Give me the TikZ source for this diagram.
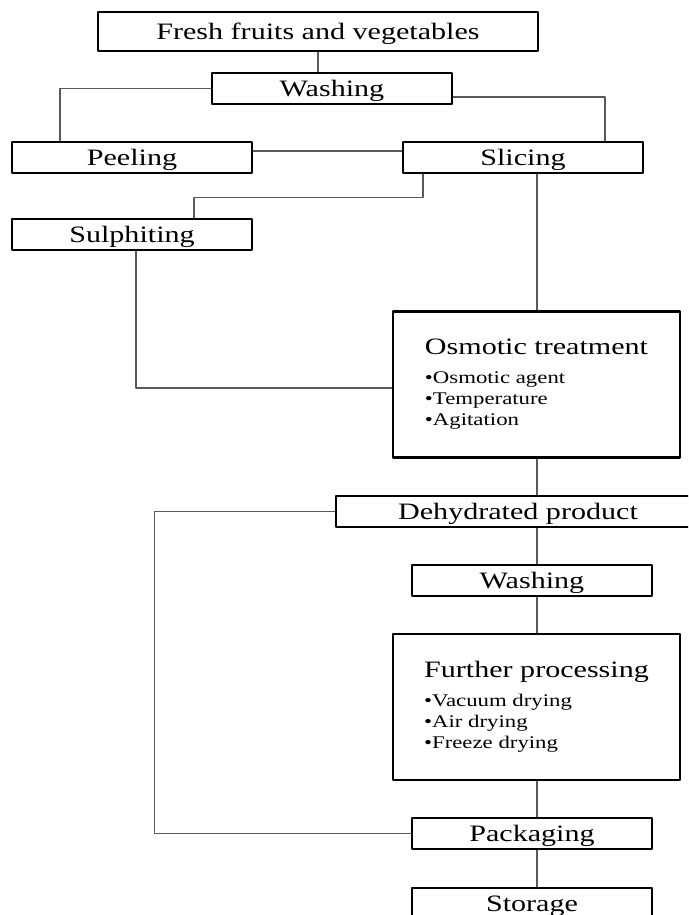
\documentclass[tikz,border=0pt]{standalone}
\usepackage{fontspec}
\setmainfont{Liberation Serif}
\usepackage{graphicx}

\newcommand{\wide}[1]{\scalebox{1.28}[1]{#1}}
\newcommand{\headfont}{\fontsize{23.5}{28}\selectfont}
\newcommand{\listfont}{\fontsize{17.8}{21}\selectfont}

\begin{document}
\begin{tikzpicture}[x=1pt,y=-1pt,line join=round,
  box/.style={draw,line width=2.8pt,inner sep=0pt,minimum width=240pt,minimum height=31pt,
    text height=15.5pt,text depth=0pt,font=\headfont},
  bigbox/.style={draw,line width=2.8pt,inner sep=0pt,minimum width=287pt,
    minimum height=146pt,align=left,font=\listfont},
  link/.style={line width=1.5pt,color=black!65}]

\useasboundingbox (0,0) rectangle (688,915);
\clip (0,0) rectangle (688,915);

% preparation steps
\node[box,minimum width=440pt,minimum height=39pt] (fresh) at (318,31.5) {\wide{Fresh fruits and vegetables}};
\node[box] (wash1) at (332,88.5) {\wide{Washing}};
\node[box] (peel) at (132,157.5) {\wide{Peeling}};
\node[box] (slice) at (523,157.5) {\wide{Slicing}};
\node[box] (sulph) at (132,234.5) {\wide{Sulphiting}};

\node[bigbox] (osmo) at (536.5,384.5) {{\headfont\wide{Osmotic treatment}}\\[8pt]
  \wide{•Osmotic agent}\\ \wide{•Temperature}\\ \wide{•Agitation}};

% after treatment
\node[box,minimum width=364pt] (dehyd) at (518,511.5) {\wide{Dehydrated product}};
\node[box] (wash2) at (532,580.5) {\wide{Washing}};
\node[bigbox] (further) at (536.5,707) {{\headfont\wide{Further processing}}\\[8pt]
  \wide{•Vacuum drying}\\ \wide{•Air drying}\\ \wide{•Freeze drying}};
\node[box] (pack) at (532,833.5) {\wide{Packaging}};
\node[box] (store) at (532,903.5) {\wide{Storage}};

\coordinate (spine) at (537,0);

% connections
\draw[link] (fresh.south) -- (fresh.south |- wash1.north);
\draw[link] (wash1.west) -| ([xshift=-72pt]peel.north);
\draw[link] ([yshift=-8.5pt]wash1.east) -| ([xshift=82pt]slice.north);
\draw[link] ([yshift=6.5pt]peel.east) -- ([yshift=6.5pt]slice.west);
\draw[link] ([xshift=-100pt]slice.south) -- ++(0,23) -| ([xshift=62pt]sulph.north);
\draw[link] ([xshift=4pt]sulph.south) |- ([yshift=-3.5pt]osmo.west);
\draw[link] (spine |- slice.south) -- (spine |- osmo.north);
\draw[link] (spine |- osmo.south) -- (spine |- dehyd.north);
\draw[link] (spine |- dehyd.south) -- (spine |- wash2.north);
\draw[link] (spine |- wash2.south) -- (spine |- further.north);
\draw[link] (spine |- further.south) -- (spine |- pack.north);
\draw[link] (spine |- pack.south) -- (spine |- store.north);
\draw[link] (dehyd.west) -- ++(-180,0) |- (pack.west);

\end{tikzpicture}
\end{document}
